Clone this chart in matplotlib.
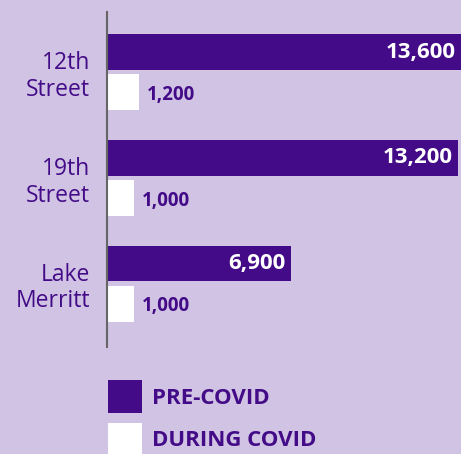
import matplotlib
matplotlib.use("Agg")
from matplotlib import pyplot as plt
from matplotlib.patches import Patch

# Data
stations = ["12th\nStreet", "19th\nStreet", "Lake\nMerritt"]
pre_covid = [13600, 13200, 6900]
during_covid = [1200, 1000, 1000]

bg = "#d0c3e3"
purple = "#430b87"

plt.rcParams['font.family'] = ['Open Sans', 'DejaVu Sans']

fig = plt.figure(figsize=(4.61, 4.54), dpi=100, facecolor=bg)
ax = fig.add_axes([0.232, 0.2357, 0.768, 0.738], facecolor=bg)

pos = list(range(len(stations)))
h = 0.34
off = 0.19
ax.barh([p - off for p in pos], pre_covid, height=h, color=purple)
ax.barh([p + off for p in pos], during_covid, height=h, color="white")

xmax = 13300
ax.set_xlim(0, xmax)
ax.set_ylim(2.6, -0.57)

for p, v in zip(pos, pre_covid):
    ax.annotate(f"{v:,}", (min(v, xmax), p - off), xytext=(-4, 0), textcoords="offset points",
                ha="right", va="center", color="white", fontsize=16, fontweight="bold")
for p, v in zip(pos, during_covid):
    ax.annotate(f"{v:,}", (v, p + off), xytext=(6, -2), textcoords="offset points",
                ha="left", va="center", color=purple, fontsize=13.5, fontweight="bold")

ax.set_yticks(pos)
ax.set_yticklabels(stations, fontsize=16.5, color=purple, linespacing=1.15)
ax.tick_params(axis="y", length=0, pad=12)
ax.set_xticks([])
for s in ["top", "right", "bottom"]:
    ax.spines[s].set_visible(False)
ax.spines["left"].set_color("#666666")
ax.spines["left"].set_linewidth(1.5)

handles = [Patch(facecolor=purple, label="PRE-COVID"), Patch(facecolor="white", label="DURING COVID")]
leg = fig.legend(handles=handles, loc="upper left", bbox_to_anchor=(0.234, 0.163), frameon=False,
                 fontsize=16, handlelength=1.53, handleheight=1.9, handletextpad=0.45,
                 labelspacing=0.45, borderpad=0, borderaxespad=0)
for t in leg.get_texts():
    t.set_color(purple)
    t.set_fontweight("bold")

fig.savefig("out.png", dpi=100, facecolor=bg)
